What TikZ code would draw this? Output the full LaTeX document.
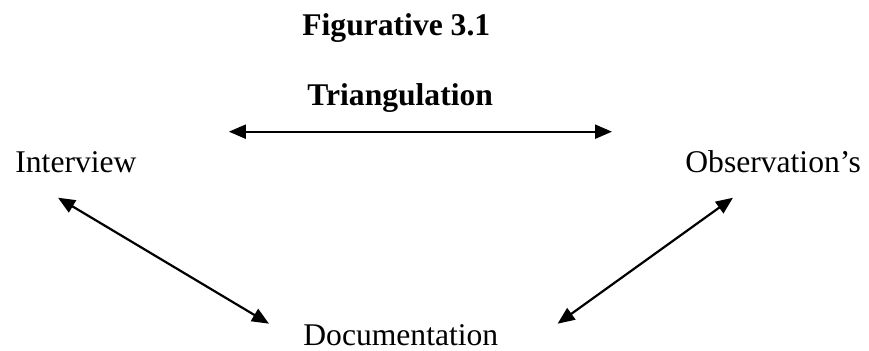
\documentclass[tikz,border=0pt]{standalone}
\usepackage{fontspec}
\setmainfont{Liberation Serif}
\usepackage{tikz}
\usetikzlibrary{arrows.meta,positioning}

\tikzset{
    word/.style={inner sep=0pt, anchor=base west, font=\fontsize{15.8}{18}\selectfont},
    heading/.style={word, font=\fontsize{15.8}{18}\selectfont\bfseries},
    link/.style={line width=1.1pt, {Triangle[length=8.5pt,width=7pt]}-{Triangle[length=8.5pt,width=7pt]}}
}

\begin{document}
\begin{tikzpicture}[x=0.5pt,y=-0.5pt]
    \useasboundingbox (0,0) rectangle (869,350);

    % Headings
    \node[heading] (fig) at (302,35) {Figurative 3.1};
    \node[heading] (tri) at (307,105) {Triangulation};

    % Corners of the triangle
    \node[word] (interview) at (15,172) {Interview};
    \node[word] (observ) at (685,172) {Observation's};
    \node[word] (docu) at (303,345) {Documentation};

    % Arrows
    \draw[link] ([shift={(92,-19)}]interview.north east) coordinate (topl) -- ([shift={(-73,0)}]observ.west |- topl);
    \draw[link] ([shift={(43,25)}]interview.south west) -- ([shift={(-34,0)}]docu.north west);
    \draw[link] ([shift={(48,25)}]observ.south west) -- ([shift={(59,0)}]docu.north east);
\end{tikzpicture}
\end{document}
